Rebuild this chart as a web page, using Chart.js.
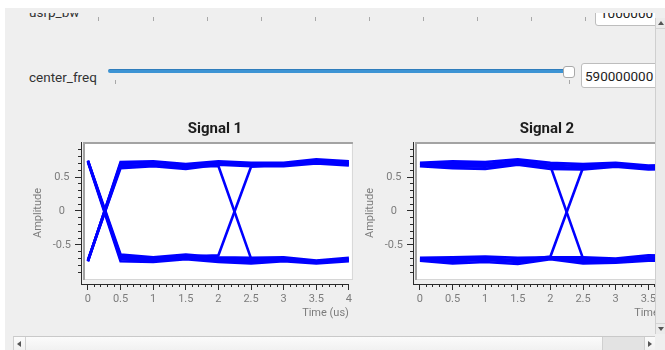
<!DOCTYPE html>
<html>
<head>
<meta charset="utf-8">
<script src="https://cdn.jsdelivr.net/npm/chart.js@4/dist/chart.umd.min.js"></script>
<style>
  html,body{margin:0;padding:0;background:#fff;width:665px;height:350px;overflow:hidden;font-family:Roboto,"Noto Sans",sans-serif;}
  #panel{position:absolute;left:5px;top:8px;width:660px;height:342px;background:#efefef;}
  #view{position:absolute;left:0;top:0;width:665px;height:350px;clip-path:inset(13px 10px 14px 5px);}
  .abs{position:absolute;}
  .lbl{position:absolute;font-size:13.5px;line-height:16px;color:#333;white-space:nowrap;}
  .tick{position:absolute;width:1px;background:#a8a8a8;}
  .box{position:absolute;background:#fff;border:1px solid #bdbdbd;border-radius:3px;box-sizing:border-box;}
  .boxtxt{position:absolute;font-size:13.5px;line-height:16px;color:#222;white-space:nowrap;}
  canvas{position:absolute;}
</style>
</head>
<body>
<div id="panel"></div>
<div id="view">
  <!-- partially scrolled-away row -->
  <div class="lbl" style="left:29px;top:4px;">usrp_bw</div>
  <div id="topTicks"></div>
  <div class="box" style="left:595px;top:-4px;width:80px;height:30px;"></div>
  <div class="boxtxt" style="left:600px;top:5px;">1000000</div>

  <!-- center_freq row -->
  <div class="lbl" style="left:29px;top:69px;">center_freq</div>
  <div class="abs" style="left:108px;top:69px;width:460px;height:4px;background:#3d94d4;border-top:1px solid #2f7dbc;border-radius:2px;box-sizing:border-box;"></div>
  <div class="abs" style="left:563px;top:66px;width:12px;height:12px;background:#fff;border:1px solid #a9a9a9;border-radius:3px;box-sizing:border-box;"></div>
  <div class="tick" style="left:115px;top:80px;height:4px;"></div>
  <div class="tick" style="left:569px;top:80px;height:4px;"></div>
  <div class="box" style="left:581px;top:63px;width:90px;height:25px;"></div>
  <div class="boxtxt" style="left:585px;top:68px;">590000000</div>

  <canvas id="c1" width="335" height="210" style="left:20px;top:112px;"></canvas>
  <canvas id="c2" width="335" height="210" style="left:352px;top:112px;"></canvas>
</div>

<!-- vertical scrollbar -->
<div class="abs" style="left:655px;top:18px;width:10px;height:316px;background:#ebebeb;border-left:1px solid #cfcfcf;box-sizing:border-box;"></div>
<div class="abs" style="left:656px;top:28px;width:9px;height:1px;background:#d4d4d4;"></div>
<div class="abs" style="left:656px;top:323px;width:9px;height:1px;background:#d4d4d4;"></div>
<div class="abs" style="left:658px;top:21px;width:0;height:0;border-left:3px solid transparent;border-right:3px solid transparent;border-bottom:4px solid #555;"></div>
<div class="abs" style="left:658px;top:327px;width:0;height:0;border-left:3px solid transparent;border-right:3px solid transparent;border-top:4px solid #555;"></div>

<!-- horizontal scrollbar -->
<div class="abs" style="left:13px;top:336px;width:642px;height:14px;background:linear-gradient(#fbfbfb,#f1f1f1);border-top:1px solid #c9c9c9;border-left:1px solid #cfcfcf;box-sizing:border-box;"></div>
<div class="abs" style="left:25px;top:337px;width:1px;height:13px;background:#d2d2d2;"></div>
<div class="abs" style="left:602px;top:337px;width:42px;height:13px;background:#e3e3e3;border-left:1px solid #d0d0d0;box-sizing:border-box;"></div>
<div class="abs" style="left:644px;top:337px;width:1px;height:13px;background:#cfcfcf;"></div>
<div class="abs" style="left:17px;top:341px;width:0;height:0;border-top:3px solid transparent;border-bottom:3px solid transparent;border-right:4px solid #555;"></div>
<div class="abs" style="left:648px;top:341px;width:0;height:0;border-top:3px solid transparent;border-bottom:3px solid transparent;border-left:4px solid #555;"></div>

<script>
// ---------------- data ----------------
const timeUs = [0, 0.5, 1, 1.5, 2, 2.5, 3, 3.5, 4];

// Signal 1 eye-diagram traces (amplitude at each time sample)
const sig1Trace1  = [-0.74, 0.72, 0.73, 0.69, 0.73, 0.71, 0.71, 0.76, 0.73];
const sig1Trace2  = [-0.73, 0.69, 0.71, 0.67, 0.71, 0.69, 0.69, 0.74, 0.71];
const sig1Trace3  = [-0.74, 0.66, 0.68, 0.64, 0.70, 0.68, 0.68, 0.72, 0.69];
const sig1Trace4  = [-0.72, 0.63, 0.66, 0.62, 0.68, 0.66, 0.66, 0.70, 0.67];
const sig1Trace5  = [0.74, -0.64, -0.68, -0.64, -0.68, -0.69, -0.68, -0.73, -0.69];
const sig1Trace6  = [0.73, -0.67, -0.70, -0.66, -0.70, -0.72, -0.70, -0.74, -0.71];
const sig1Trace7  = [0.74, -0.71, -0.73, -0.69, -0.73, -0.74, -0.72, -0.76, -0.72];
const sig1Trace8  = [0.72, -0.74, -0.75, -0.71, -0.75, -0.77, -0.74, -0.77, -0.74];
const sig1Trace9  = [-0.73, 0.70, 0.72, 0.66, 0.66, -0.70, -0.71, -0.75, -0.72];
const sig1Trace10 = [0.73, -0.69, -0.71, -0.67, -0.65, 0.65, 0.69, 0.74, 0.70];

// Signal 2 eye-diagram traces
const sig2Trace1  = [0.71, 0.73, 0.72, 0.76, 0.71, 0.69, 0.71, 0.67, 0.68];
const sig2Trace2  = [0.69, 0.70, 0.69, 0.73, 0.68, 0.66, 0.69, 0.65, 0.66];
const sig2Trace3  = [0.675, 0.66, 0.65, 0.70, 0.65, 0.63, 0.67, 0.63, 0.64];
const sig2Trace4  = [0.66, 0.63, 0.62, 0.68, 0.62, 0.61, 0.65, 0.61, 0.62];
const sig2Trace5  = [-0.69, -0.68, -0.67, -0.69, -0.68, -0.68, -0.70, -0.65, -0.66];
const sig2Trace6  = [-0.70, -0.71, -0.70, -0.72, -0.69, -0.71, -0.72, -0.68, -0.69];
const sig2Trace7  = [-0.72, -0.74, -0.72, -0.75, -0.70, -0.74, -0.74, -0.70, -0.71];
const sig2Trace8  = [-0.73, -0.77, -0.75, -0.78, -0.71, -0.77, -0.76, -0.73, -0.73];
const sig2Trace9  = [0.70, 0.68, 0.67, 0.72, 0.66, -0.70, -0.73, -0.70, -0.70];
const sig2Trace10 = [-0.71, -0.72, -0.71, -0.73, -0.67, 0.64, 0.68, 0.64, 0.65];

// axes
const xMajorTicks = [0, 0.5, 1, 1.5, 2, 2.5, 3, 3.5, 4];
const xTickLabels = ['0', '0.5', '1', '1.5', '2', '2.5', '3', '3.5', '4'];
const xMinorTicks = [0, 0.1, 0.2, 0.3, 0.4, 0.5, 0.6, 0.7, 0.8, 0.9, 1, 1.1, 1.2, 1.3, 1.4, 1.5, 1.6, 1.7, 1.8, 1.9, 2,
                     2.1, 2.2, 2.3, 2.4, 2.5, 2.6, 2.7, 2.8, 2.9, 3, 3.1, 3.2, 3.3, 3.4, 3.5, 3.6, 3.7, 3.8, 3.9, 4];
const yMajorTicks = [-0.5, 0, 0.5];
const yTickLabels = ['-0.5', '0', '0.5'];
const yMinorTicks = [-0.9, -0.8, -0.7, -0.6, -0.5, -0.4, -0.3, -0.2, -0.1, 0, 0.1, 0.2, 0.3, 0.4, 0.5, 0.6, 0.7, 0.8, 0.9];
const xRange = [-0.1065, 4];
const yRange = [-1.074, 1.015];
const chartTitles = ['Signal 1', 'Signal 2'];
const xAxisTitle = 'Time (us)';
const yAxisTitle = 'Amplitude';
const sig1Traces = [sig1Trace1, sig1Trace2, sig1Trace3, sig1Trace4, sig1Trace5, sig1Trace6, sig1Trace7, sig1Trace8, sig1Trace9, sig1Trace10];
const sig2Traces = [sig2Trace1, sig2Trace2, sig2Trace3, sig2Trace4, sig2Trace5, sig2Trace6, sig2Trace7, sig2Trace8, sig2Trace9, sig2Trace10];

// slider ticks of the scrolled-away row (GUI decoration)
const topTickXs = [98, 153, 207, 261, 315, 369, 423, 477, 531, 585];
const tt = document.getElementById('topTicks');
topTickXs.forEach(x => { const d = document.createElement('div'); d.className = 'tick'; d.style.left = x + 'px'; d.style.top = '17px'; d.style.height = '4px'; tt.appendChild(d); });

// ---------------- chart ----------------
const framePlugin = {
  id: 'frame',
  beforeDraw(chart) {
    const {ctx, chartArea: a} = chart;
    const l = a.left + 2, t = a.top, r = a.right + 4, b = a.bottom - 4;
    ctx.save();
    ctx.fillStyle = '#ffffff';
    ctx.fillRect(l, t, r - l, b - t);
    ctx.fillStyle = '#d6d6d6';
    ctx.fillRect(r - 1, t, 1, b - t);
    ctx.fillRect(l, b - 1, r - l, 1);
    ctx.fillStyle = '#a3a3a3';
    ctx.fillRect(l, t, r - l, 2);
    ctx.fillRect(l, t, 2, b - t);
    ctx.restore();
  }
};

const axisFont = {family: 'Roboto', size: 11};
const axisColor = '#2b2b2b';
const labelColor = '#7c7c7c';

function makeChart(id, title, traces) {
  return new Chart(document.getElementById(id), {
    type: 'line',
    data: {
      datasets: traces.map(tr => ({
        data: tr.map((v, i) => ({x: timeUs[i], y: v})),
        borderColor: '#0000ff',
        borderWidth: 2.6,
        pointRadius: 0,
        fill: false,
        tension: 0,
        xAxisID: 'x',
        yAxisID: 'y'
      }))
    },
    options: {
      responsive: false,
      animation: false,
      devicePixelRatio: 1,
      events: [],
      layout: {padding: {left: 12, right: 4, top: 0, bottom: 2}},
      plugins: {
        legend: {display: false},
        tooltip: {enabled: false},
        title: {
          display: true, text: title, fullSize: false, color: '#1c1c1c',
          font: {family: 'Roboto', size: 15, weight: 'bold', lineHeight: 1.2},
          padding: {top: 8, bottom: 4}
        }
      },
      scales: {
        x: {
          type: 'linear', position: 'bottom', weight: 1, min: xRange[0], max: xRange[1],
          afterBuildTicks: s => { s.ticks = xMajorTicks.map(v => ({value: v})); },
          afterFit: s => { s.height = 36; },
          ticks: {autoSkip: false, maxRotation: 0, color: labelColor, font: axisFont, padding: 3,
                  callback: (v, i) => xTickLabels[i]},
          grid: {drawOnChartArea: false, drawTicks: true, tickLength: 6, tickColor: axisColor, tickWidth: 1},
          border: {display: true, color: axisColor, width: 1},
          title: {display: true, text: xAxisTitle, align: 'end', color: labelColor, font: axisFont, padding: 0}
        },
        x2: {
          type: 'linear', position: 'bottom', weight: 0, min: xRange[0], max: xRange[1],
          afterBuildTicks: s => { s.ticks = xMinorTicks.map(v => ({value: v})); },
          afterFit: s => { s.height = 0; },
          ticks: {display: false},
          grid: {drawOnChartArea: false, drawTicks: true, tickLength: 3, tickColor: axisColor, tickWidth: 1},
          border: {display: false}
        },
        y: {
          type: 'linear', position: 'left', weight: 1, min: yRange[0], max: yRange[1],
          afterBuildTicks: s => { s.ticks = yMajorTicks.map(v => ({value: v})); },
          afterFit: s => { s.width = 49; },
          ticks: {autoSkip: false, crossAlign: 'center', color: labelColor, font: axisFont, padding: 4,
                  callback: (v, i) => yTickLabels[i]},
          grid: {drawOnChartArea: false, drawTicks: true, tickLength: 6, tickColor: axisColor, tickWidth: 1},
          border: {display: true, color: axisColor, width: 1},
          title: {display: true, text: yAxisTitle, color: labelColor, font: axisFont, padding: 0}
        },
        y2: {
          type: 'linear', position: 'left', weight: 0, min: yRange[0], max: yRange[1],
          afterBuildTicks: s => { s.ticks = yMinorTicks.map(v => ({value: v})); },
          afterFit: s => { s.width = 0; },
          ticks: {display: false},
          grid: {drawOnChartArea: false, drawTicks: true, tickLength: 3, tickColor: axisColor, tickWidth: 1},
          border: {display: false}
        }
      }
    },
    plugins: [framePlugin]
  });
}

makeChart('c1', chartTitles[0], sig1Traces);
makeChart('c2', chartTitles[1], sig2Traces);
</script>
</body>
</html>
